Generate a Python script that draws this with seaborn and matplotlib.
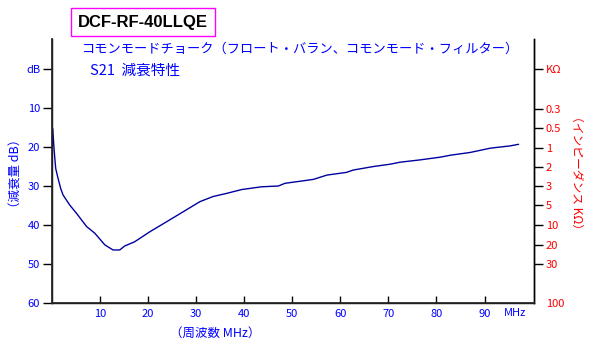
import matplotlib
matplotlib.use("Agg")
import matplotlib.pyplot as plt
import seaborn as sns

# 周波数特性データ (MHz, dB)
freq_mhz = [0.15, 0.35, 0.56, 0.77, 1.25, 1.8, 2.3, 3.7, 5.1, 7.2, 8.9, 11.0, 12.7,
            14.1, 15.1, 17.2, 20.4, 23.8, 27.3, 30.8, 33.5, 36.3, 39.5, 43.6, 47.1,
            48.5, 50.9, 54.4, 57.2, 61.3, 62.7, 66.9, 70.4, 72.4, 76.6, 80.8, 82.9,
            87.0, 91.2, 95.4, 97.1]
s21_db = [15.3, 19.1, 22.5, 25.5, 28.0, 30.6, 32.3, 34.9, 37.0, 40.4, 42.1, 45.1, 46.4,
          46.4, 45.4, 44.3, 41.7, 39.2, 36.6, 34.0, 32.7, 31.9, 30.9, 30.2, 30.0,
          29.3, 28.9, 28.3, 27.2, 26.5, 25.9, 25.0, 24.4, 23.9, 23.3, 22.6, 22.1,
          21.4, 20.3, 19.7, 19.3]

# 軸目盛り
x_ticks = [10, 20, 30, 40, 50, 60, 70, 80, 90]
db_ticks = [0, 10, 20, 30, 40, 50, 60]
db_labels = ["dB", "10", "20", "30", "40", "50", "60"]
# インピーダンス目盛り (dB 軸上の位置)
z_pos = [0, 10.2, 15.0, 20.3, 25.1, 29.9, 34.9, 40.0, 45.1, 50.0, 60.0]
z_labels = ["KΩ", "0.3", "0.5", "1", "2", "3", "5", "10", "20", "30", "100"]

sns.set_theme(style="white")
plt.rcParams['font.family'] = ['Noto Sans CJK JP', 'DejaVu Sans']

BLUE = "#0000FF"
RED = "#FF0000"
TICK_FS = 8

fig = plt.figure(figsize=(5.91, 3.51), dpi=100)
ax = fig.add_axes([52 / 591, 1 - 303 / 351, (534 - 52) / 591, (303 - 39) / 351])

sns.lineplot(x=freq_mhz, y=s21_db, ax=ax, color="#0000A0", linewidth=1.0)

ax.set_xlim(0, 100.3)
ax.set_ylim(60, -7.7)
for s in ["left", "bottom", "right"]:
    ax.spines[s].set_visible(True)
    ax.spines[s].set_color("black")
    ax.spines[s].set_linewidth(1.0)
ax.spines["top"].set_visible(False)

ax.set_xticks(x_ticks)
ax.set_xticklabels([str(v) for v in x_ticks], color=BLUE, fontsize=TICK_FS)
ax.tick_params(axis="x", direction="in", length=5, width=1, color="black", pad=4, bottom=True)

ax.set_yticks(db_ticks)
ax.set_yticklabels(db_labels, color=BLUE, fontsize=TICK_FS)
ax.tick_params(axis="y", direction="out", length=6.5, width=1, color="black", pad=2, left=True)
ax.yaxis.get_major_ticks()[-1].tick1line.set_visible(False)
ax.set_xlabel("")
ax.set_ylabel("")

ax2 = ax.twinx()
ax2.set_ylim(60, -7.7)
ax2.spines["top"].set_visible(False)
ax2.spines["right"].set_color("black")
ax2.spines["right"].set_linewidth(1.0)
ax2.set_yticks(z_pos)
ax2.set_yticklabels(z_labels, color=RED, fontsize=TICK_FS)
ax2.tick_params(axis="y", direction="out", length=6.5, width=1, color="black", pad=2, right=True)
ax2.yaxis.get_major_ticks()[-1].tick2line.set_visible(False)
ax2.grid(False)
ax.grid(False)

ax.text(94.0, -0.02, "MHz", transform=ax.get_xaxis_transform(), color=BLUE,
        fontsize=TICK_FS, ha="left", va="top")

# タイトル・説明文
fig.text(143 / 591, 1 - 22 / 351, "DCF-RF-40LLQE", ha="center", va="center",
         fontsize=12, fontweight="bold", family=["Liberation Sans", "DejaVu Sans"],
         color="black",
         bbox=dict(boxstyle="square,pad=0.4", facecolor="white", edgecolor="#FF00FF", linewidth=1))
fig.text(82 / 591, 1 - 49 / 351, "コモンモードチョーク（フロート・バラン、コモンモード・フィルター）",
         ha="left", va="center", fontsize=9.5, color=BLUE)
fig.text(90 / 591, 1 - 71 / 351, "S21  減衰特性", ha="left", va="center", fontsize=10.5, color=BLUE)

# 軸ラベル
fig.text(16 / 591, 1 - 173 / 351, "（減衰量 dB）", rotation=90, ha="center", va="center",
         fontsize=9, color=BLUE)
fig.text(577 / 591, 1 - 172 / 351, "（インピーダンス KΩ）", rotation=270, ha="center", va="center",
         fontsize=8.5, color=RED)
fig.text(215 / 591, 1 - 333 / 351, "（周波数 MHz）", ha="center", va="center",
         fontsize=9, color=BLUE)

fig.savefig("out.png", dpi=100, facecolor="white")
